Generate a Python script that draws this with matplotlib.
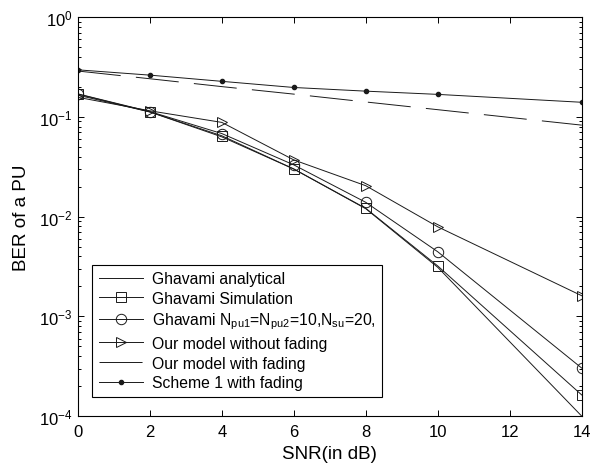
"""Recreate the BER-vs-SNR comparison chart (log scale)."""

from __future__ import annotations

import matplotlib

matplotlib.use("Agg")
import matplotlib.pyplot as plt


SNR = [0, 2, 4, 6, 8, 10, 14]
SNR_FADING = [0, 2, 4, 6, 8, 10, 12, 14]

GHAVAMI_ANALYTICAL = [0.165, 0.112, 0.063, 0.030, 0.0120, 0.0031, 1.0e-4]
GHAVAMI_SIMULATION = [0.169, 0.112, 0.0646, 0.030, 0.0121, 0.0032, 1.63e-4]
GHAVAMI_NPU = [0.170, 0.113, 0.068, 0.033, 0.0139, 0.00444, 3.03e-4]
OUR_NO_FADING = [0.157, 0.115, 0.088, 0.037, 0.0204, 0.0079, 1.61e-3]
OUR_FADING = [0.288, 0.241, 0.201, 0.169, 0.141, 0.118, 0.0987, 0.0826]
SCHEME1_SNR = [0, 2, 4, 6, 8, 10, 14]
SCHEME1_FADING = [0.296, 0.262, 0.227, 0.197, 0.181, 0.168, 0.140]

LABELS = [
    "Ghavami analytical",
    "Ghavami Simulation",
    r"Ghavami N$_{pu1}$=N$_{pu2}$=10,N$_{su}$=20,",
    "Our model without fading",
    "Our model with fading",
    "Scheme 1 with fading",
]


def main() -> None:
    plt.rcParams["font.family"] = ["Liberation Sans", "DejaVu Sans"]
    plt.rcParams["mathtext.fontset"] = "custom"
    plt.rcParams["mathtext.rm"] = "Liberation Sans"
    plt.rcParams["mathtext.it"] = "Liberation Sans"
    plt.rcParams["lines.scale_dashes"] = False

    figure = plt.figure(figsize=(5.9, 4.64), dpi=100)
    axis = figure.add_axes([0.132, 0.101, 0.854, 0.860])

    line = dict(color="#1a1a1a", linewidth=0.7)
    hollow = dict(markerfacecolor="none", markeredgecolor="#1a1a1a", markeredgewidth=0.7, markersize=7.5)

    axis.plot(SNR, GHAVAMI_ANALYTICAL, label=LABELS[0], **line)
    axis.plot(SNR, GHAVAMI_SIMULATION, marker="s", label=LABELS[1], **line, **hollow)
    axis.plot(SNR, GHAVAMI_NPU, marker="o", label=LABELS[2], **line, **hollow)
    axis.plot(SNR, OUR_NO_FADING, marker=">", label=LABELS[3], **line, **hollow)
    axis.plot(SNR_FADING, OUR_FADING, dashes=(31, 11), label=LABELS[4], **line)
    axis.plot(SCHEME1_SNR, SCHEME1_FADING, marker=".", markersize=6, label=LABELS[5], **line)

    axis.set_yscale("log")
    axis.set_xlim(0, 14)
    axis.set_ylim(1e-4, 1)
    axis.set_xticks(range(0, 15, 2))
    axis.tick_params(which="both", direction="in", top=True, right=True, labelsize=12, width=0.7)
    axis.tick_params(which="major", length=4.5, pad=4)
    axis.tick_params(axis="x", which="major", pad=6)
    axis.tick_params(which="minor", length=2.5)
    axis.tick_params(axis="x", which="minor", top=False, bottom=False)
    for spine in axis.spines.values():
        spine.set_linewidth(0.8)

    axis.set_xlabel("SNR(in dB)", fontsize=13.5, labelpad=4)
    axis.set_ylabel("BER of a PU", fontsize=13.5, labelpad=6)

    legend = axis.legend(
        loc="lower left",
        bbox_to_anchor=(0.028, 0.048),
        borderaxespad=0,
        fontsize=11.3,
        handlelength=2.85,
        handletextpad=0.55,
        labelspacing=0.3,
        borderpad=0.42,
        fancybox=False,
        framealpha=1,
        edgecolor="black",
    )
    legend.get_frame().set_linewidth(0.8)

    figure.savefig("out.png", dpi=100)
    plt.close(figure)


if __name__ == "__main__":
    main()
